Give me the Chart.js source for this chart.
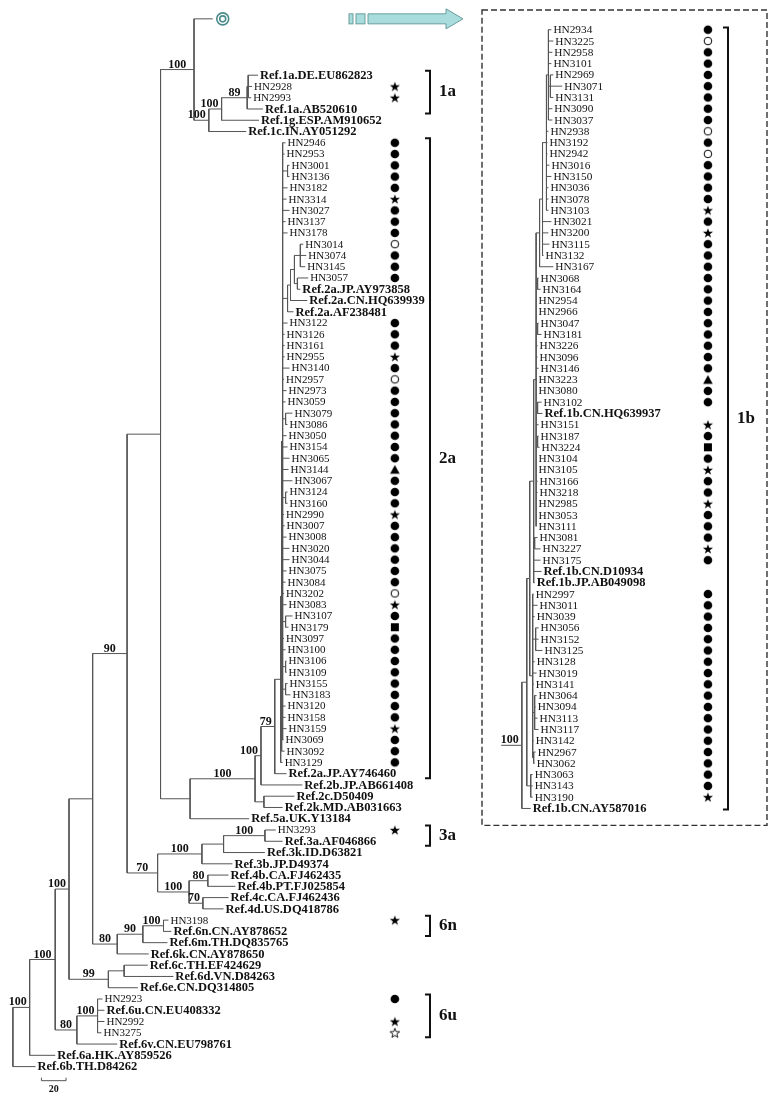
<!DOCTYPE html>
<html>
<head>
<meta charset="utf-8">
<title>Phylogenetic tree</title>
<script src="https://cdn.jsdelivr.net/npm/chart.js@4.4.1/dist/chart.umd.min.js"></script>
<style>
  html, body { margin: 0; padding: 0; background: #fff; }
  canvas { display: block; }
</style>
</head>
<body>
<canvas id="tree" width="772" height="1102"></canvas>
<script>
// branch depths are in scale-bar units (bar = 20)
// mark codes: o dot, c open circle, s star, S open star, t triangle, q square, - none

// collapsed 1b clade (drawn as the ring at the top, expanded in the box)
const collapsedDepth = 162.4;
const collapsedParent = 'H';

const topNames = ['Ref.1a.DE.EU862823', 'HN2928', 'HN2993', 'Ref.1a.AB520610', 'Ref.1g.ESP.AM910652', 'Ref.1c.IN.AY051292'];
const topDepth = [199.2, 194.4, 193.6, 203.2, 200, 189.6];
const topParent = ['L', 'L', 'L', 'K', 'J', 'I'];
const topMarks = '-ss---';

const names2a = ['HN2946', 'HN2953', 'HN3001', 'HN3136', 'HN3182', 'HN3314', 'HN3027', 'HN3137', 'HN3178', 'HN3014',
  'HN3074', 'HN3145', 'HN3057', 'Ref.2a.JP.AY973858', 'Ref.2a.CN.HQ639939', 'Ref.2a.AF238481', 'HN3122', 'HN3126', 'HN3161', 'HN2955',
  'HN3140', 'HN2957', 'HN2973', 'HN3059', 'HN3079', 'HN3086', 'HN3050', 'HN3154', 'HN3065', 'HN3144',
  'HN3067', 'HN3124', 'HN3160', 'HN2990', 'HN3007', 'HN3008', 'HN3020', 'HN3044', 'HN3075', 'HN3084',
  'HN3202', 'HN3083', 'HN3107', 'HN3179', 'HN3097', 'HN3100', 'HN3106', 'HN3109', 'HN3155', 'HN3183',
  'HN3120', 'HN3158', 'HN3159', 'HN3069', 'HN3092', 'HN3129'];
const depth2a = [221.6, 220.8, 224.8, 224.8, 223.2, 222.4, 224.8, 221.6, 223.2, 236,
  238.4, 237.6, 240, 233.6, 239.2, 228, 223.2, 220.8, 220.8, 220.8,
  224.8, 220.4, 222.4, 221.6, 227.2, 223.2, 222.4, 223.2, 224.8, 224,
  227.2, 223.2, 223.2, 220.4, 220.8, 222.4, 224.8, 224.8, 222.4, 221.6,
  220.4, 222.4, 227.2, 224, 220.4, 221.6, 222.4, 222.4, 223.2, 225.6,
  221.6, 221.6, 222.4, 220, 220.8, 219.2];
const parent2a = ['R', 'R', 'a1', 'a1', 'R', 'R', 'R', 'R', 'R', 's4',
  's4', 's4', 's5', 's5', 's2', 's1', 'R', 'R', 'R', 'R',
  'R', 'R', 'R', 'R', 'a2', 'a2', 'R', 'R', 'R', 'R',
  'R', 'a3', 'a3', 'R', 'R', 'R', 'R', 'R', 'R', 'R',
  'R', 'R', 'a4', 'a4', 'R', 'R', 'a5', 'a5', 'a6', 'a6',
  'R', 'R', 'R', 'R', 'Z1', 'Z'];
const marks2a = 'ooooosoooc' + 'ooo---ooos' + 'ocooooooot' + 'ooosoooooo' + 'csoqoooooo' + 'oosooo';

const lowNames = ['Ref.2a.JP.AY746460', 'Ref.2b.JP.AB661408', 'Ref.2c.D50409', 'Ref.2k.MD.AB031663', 'Ref.5a.UK.Y13184',
  'HN3293', 'Ref.3a.AF046866', 'Ref.3k.ID.D63821', 'Ref.3b.JP.D49374', 'Ref.4b.CA.FJ462435',
  'Ref.4b.PT.FJ025854', 'Ref.4c.CA.FJ462436', 'Ref.4d.US.DQ418786', 'HN3198', 'Ref.6n.CN.AY878652',
  'Ref.6m.TH.DQ835765', 'Ref.6k.CN.AY878650', 'Ref.6c.TH.EF424629', 'Ref.6d.VN.D84263', 'Ref.6e.CN.DQ314805',
  'HN2923', 'Ref.6u.CN.EU408332', 'HN2992', 'HN3275', 'Ref.6v.CN.EU798761', 'Ref.6a.HK.AY859526', 'Ref.6b.TH.D84262'];
const lowDepth = [222.4, 235.2, 228.8, 219.2, 192, 213.6, 219.2, 204.8, 178.4, 175.2,
  180.8, 175.2, 171.2, 126.4, 128.8, 125.6, 110.4, 109.6, 130.4, 101.6,
  72.8, 74.4, 74.4, 72, 84.8, 34.4, 18.4];
const lowParent = ['N79', 'G2', 'Y', 'Y', 'F', 'V', 'V', 'U', 'S', 'W',
  'W', 'X', 'X', 'N100b', 'N100b', 'N90', 'N', 'O', 'O', 'P99',
  'Q', 'Q', 'Q', 'Q', 'P80', 'A', 'root'];
const lowMarks = '-----s-------s------o-sS---';

const leftNodeNames = ['root', 'A', 'B', 'C', 'D', 'E', 'E1', 'H', 'I', 'J', 'K', 'L',
  'F', 'G', 'G2', 'N79', 'Z', 'Z1', 'R', 'a1', 's1', 's2', 's3', 's4', 's5',
  'a2', 'a3', 'a4', 'a5', 'a6', 'Y', 'R70', 'S', 'U', 'V', 'T', 'W', 'X',
  'N', 'N90', 'N100b', 'P99', 'O', 'P80', 'Q'];
const leftNodeParent = ['', 'root', 'A', 'B', 'C', 'D', 'E', 'E1', 'H', 'I', 'J', 'K',
  'E1', 'F', 'G', 'G2', 'N79', 'Z', 'Z1', 'R', 'R', 's1', 's2', 's3', 's3',
  'R', 'R', 'R', 'R', 'R', 'G', 'E', 'R70', 'S', 'U', 'R70', 'T', 'T',
  'D', 'N', 'N90', 'C', 'P99', 'B', 'P80'];
const leftNodeDepth = [0, 13.6, 34.4, 45.6, 64.8, 92.8, 120, 147.2, 159.2, 169.6, 190.4, 191.2,
  144, 196.8, 201.6, 212.8, 217.6, 218.4, 219.2, 223.2, 223.2, 225.6, 228.8, 233.6, 231.2,
  221.6, 221.6, 221.6, 221.6, 221.6, 204, 117.6, 153.6, 171.2, 204.8, 143.2, 158.4, 154.4,
  84.8, 105.6, 122.4, 77.6, 90.4, 52, 68.8];
const leftNodeSupport = [null, 100, 100, 100, null, 90, null, 100, 100, 100, 89, null,
  null, 100, 100, 79, null, null, null, null, null, null, null, null, null,
  null, null, null, null, null, null, 70, 100, null, 100, 100, 80, 70,
  80, 90, 100, 99, null, 80, 100];

// right box: genotype 1b expanded
const rightNamesA = ['HN2934', 'HN3225', 'HN2958', 'HN3101', 'HN2969', 'HN3071', 'HN3131', 'HN3090', 'HN3037', 'HN2938',
  'HN3192', 'HN2942', 'HN3016', 'HN3150', 'HN3036', 'HN3078', 'HN3103', 'HN3021', 'HN3200', 'HN3115',
  'HN3132', 'HN3167', 'HN3068', 'HN3164', 'HN2954', 'HN2966', 'HN3047', 'HN3181', 'HN3226', 'HN3096',
  'HN3146', 'HN3223', 'HN3080', 'HN3102', 'Ref.1b.CN.HQ639937'];
const rightDepthA = [24, 25.6, 24.8, 24, 25.6, 32.8, 25.6, 24.8, 24.8, 21.6,
  20.8, 20.8, 22.4, 24, 21.6, 21.6, 21.6, 24, 21.6, 22.4,
  17.6, 25.6, 13.6, 15.2, 12, 12, 13.6, 16, 12.8, 12.8,
  13.6, 12, 12, 16, 16.8];
const rightParentA = ['g1', 'g1', 'g1', 'g1', 'n1a', 'n1a', 'n1a', 'g1', 'g1', 'g2',
  'g2', 'g2', 'g2', 'g2', 'g2', 'g2', 'g2', 'g3', 'g3', 'g3',
  'g3', 'g4', 'b1', 'b1', 'g5', 'g5', 'b2', 'b2', 'g5', 'g5',
  'g5', 'g5', 'g5', 'b3', 'b3'];
const rightMarksA = 'ocoooooooc' + 'ocoooososo' + 'oooooooooo' + 'otoo-';

const rightNamesB = ['HN3151', 'HN3187', 'HN3224', 'HN3104', 'HN3105', 'HN3166', 'HN3218', 'HN2985', 'HN3053', 'HN3111',
  'HN3081', 'HN3227', 'HN3175', 'Ref.1b.CN.D10934', 'Ref.1b.JP.AB049098', 'HN2997', 'HN3011', 'HN3039', 'HN3056', 'HN3152',
  'HN3125', 'HN3128', 'HN3019', 'HN3141', 'HN3064', 'HN3094', 'HN3113', 'HN3117', 'HN3142', 'HN2967',
  'HN3062', 'HN3063', 'HN3143', 'HN3190', 'Ref.1b.CN.AY587016'];
const rightDepthB = [13.6, 13.6, 14.4, 12, 12, 12.8, 12.8, 12, 12, 12,
  12.8, 15.2, 15.2, 16, 10.4, 9.6, 12.8, 10.4, 13.6, 13.6,
  16.8, 10.4, 12, 9.6, 12, 11.2, 12.8, 13.6, 9.6, 11.2,
  10.4, 8.8, 8.8, 8.8, 7.2];
const rightParentB = ['g5', 'b4', 'b4', 'g5', 'g5', 'g5', 'g5', 'g5', 'g5', 'g5',
  'b5', 'b5', 'g6', 'g6', 'g6', 'RE', 'RE', 'RE', 'b6', 'b6',
  'b6', 'RE', 'RE', 'RE', 'b7', 'b7', 'b7', 'b7', 'RE', 'b8',
  'b8', 'RC', 'RC', 'RC', 'RR'];
const rightMarksB = 'soqosoosoo' + 'oso--' + 'oooooooooooooooooo' + 's-';

const rightNodeNames = ['RR', 'RA', 'g7', 'RC', 'g6', 'RE', 'g5', 'g4', 'g3', 'g2', 'g1', 'n1a',
  'b1', 'b2', 'b3', 'b4', 'b5', 'b6', 'b7', 'b8'];
const rightNodeParent = ['', 'RR', 'RA', 'RA', 'g7', 'g7', 'g6', 'g5', 'g4', 'g3', 'g2', 'g1',
  'g5', 'g5', 'g5', 'g5', 'g6', 'RE', 'RE', 'RE'];
const rightNodeDepth = [0, 4, 6.4, 7.2, 9.6, 8.8, 11.6, 14.4, 16.8, 20, 21.6, 23.2,
  12.8, 12.8, 12.8, 12.8, 10.4, 11.2, 10.4, 9.6];
const rightNodeSupport = [100, null, null, null, null, null, null, null, null, null, null, null,
  null, null, null, null, null, null, null, null];
const rightStem = 16.8;

const cladeLabels = ['1a', '2a', '3a', '6n', '6u'];
const cladeFirst = ['Ref.1a.DE.EU862823', 'HN2946', 'HN3293', 'HN3198', 'HN2923'];
const cladeLast = ['Ref.1a.AB520610', 'Ref.2a.JP.AY746460', 'Ref.3a.AF046866', 'Ref.6n.CN.AY878652', 'HN3275'];
const scaleBarLength = 20;

// ---- layout ----
const W = 772, H = 1102;
const PX_PER_UNIT = 1.25;
const LEFT_ORIGIN = 7, RIGHT_ORIGIN = 524;
const LEFT_TOP = 13, LEFT_ROW = 11.39, RIGHT_TOP = 24, RIGHT_ROW = 11.41;
const FIRST_ROW = 5; // gap below the collapsed clade
const MARK_LEFT = (395 - LEFT_ORIGIN) / PX_PER_UNIT;
const MARK_RIGHT = (713 - RIGHT_ORIGIN) / PX_PER_UNIT;
const FONT = "'Liberation Serif', 'Times New Roman', serif";

function buildTree(leafNames, leafDepth, leafParent, leafRows, nodeNames, nodeParent, nodeDepth, nodeSupport, stem) {
  const nodes = {};
  nodeNames.forEach((n, i) => {
    nodes[n] = { name: n, depth: nodeDepth[i], parent: nodeParent[i], support: nodeSupport[i], kids: [] };
  });
  const leaves = leafNames.map((n, i) => ({ name: n, depth: leafDepth[i], parent: leafParent[i], y: leafRows[i] }));
  leaves.forEach(l => nodes[l.parent].kids.push(l));
  nodeNames.forEach(n => { const p = nodes[n].parent; if (p) nodes[p].kids.push(nodes[n]); });
  const yOf = nd => {
    if (nd.y === undefined) {
      const ys = nd.kids.map(yOf);
      nd.y = (Math.min(...ys) + Math.max(...ys)) / 2;
    }
    return nd.y;
  };
  nodeNames.forEach(n => yOf(nodes[n]));
  const segs = [];
  const gap = () => ({ x: null, y: null });
  nodeNames.forEach(n => {
    const nd = nodes[n];
    const ys = nd.kids.map(k => k.y);
    segs.push({ x: nd.depth, y: Math.min(...ys) }, { x: nd.depth, y: Math.max(...ys) }, gap());
    nd.kids.forEach(k => segs.push({ x: nd.depth, y: k.y }, { x: k.depth, y: k.y }, gap()));
    if (!nd.parent && stem) segs.push({ x: nd.depth - stem, y: nd.y }, { x: nd.depth, y: nd.y }, gap());
  });
  return { nodes, leaves, segs, stem };
}

const leftNames = [''].concat(topNames, names2a, lowNames);
const leftRows = leftNames.map((n, i) => i === 0 ? 0 : FIRST_ROW + i - 1);
const leftTree = buildTree(leftNames,
  [collapsedDepth].concat(topDepth, depth2a, lowDepth),
  [collapsedParent].concat(topParent, parent2a, lowParent),
  leftRows, leftNodeNames, leftNodeParent, leftNodeDepth, leftNodeSupport, 0);
const leftMarks = '-' + topMarks + marks2a + lowMarks;

const rightNames = rightNamesA.concat(rightNamesB);
const rightTree = buildTree(rightNames, rightDepthA.concat(rightDepthB), rightParentA.concat(rightParentB),
  rightNames.map((n, i) => i), rightNodeNames, rightNodeParent, rightNodeDepth, rightNodeSupport, rightStem);
const rightMarks = rightMarksA + rightMarksB;

function markImage(code) {
  const cv = document.createElement('canvas');
  cv.width = 12; cv.height = 12;
  const g = cv.getContext('2d');
  g.fillStyle = '#000'; g.strokeStyle = '#000';
  const star = (ro, ri) => {
    g.beginPath();
    for (let k = 0; k < 10; k++) {
      const r = k % 2 ? ri : ro;
      const a = -Math.PI / 2 + k * Math.PI / 5;
      g.lineTo(6 + r * Math.cos(a), 6.5 + r * Math.sin(a));
    }
    g.closePath();
  };
  if (code === 'o') { g.beginPath(); g.arc(6, 6, 4.3, 0, 2 * Math.PI); g.fill(); }
  if (code === 'c') { g.lineWidth = 1; g.beginPath(); g.arc(6, 6, 3.8, 0, 2 * Math.PI); g.stroke(); }
  if (code === 's') { star(5.3, 2.1); g.fill(); }
  if (code === 'S') { g.lineWidth = 0.9; star(5, 2.1); g.stroke(); }
  if (code === 't') { g.beginPath(); g.moveTo(6, 1.5); g.lineTo(10.8, 10.2); g.lineTo(1.2, 10.2); g.closePath(); g.fill(); }
  if (code === 'q') { g.fillRect(2, 2, 8, 8); }
  return cv;
}
const markImg = {};
'ocsStq'.split('').forEach(c => { markImg[c] = markImage(c); });

function lineSet(tree, xa, ya) {
  return { data: tree.segs, xAxisID: xa, yAxisID: ya, showLine: true, spanGaps: false,
    borderColor: '#555', borderWidth: 1, pointRadius: 0, pointHoverRadius: 0 };
}
function markSet(tree, marks, col, xa, ya) {
  const pts = [], styles = [];
  tree.leaves.forEach((l, i) => {
    if (marks[i] !== '-') { pts.push({ x: col, y: l.y }); styles.push(markImg[marks[i]]); }
  });
  return { data: pts, xAxisID: xa, yAxisID: ya, pointStyle: styles, pointRadius: 5, showLine: false };
}

function drawLeafNames(c, tree, xs, ys, hnSize) {
  c.textBaseline = 'middle';
  c.textAlign = 'left';
  tree.leaves.forEach(l => {
    if (!l.name) return;
    c.font = l.name.startsWith('Ref.') ? 'bold 12.5px ' + FONT : hnSize + 'px ' + FONT;
    c.fillText(l.name, xs.getPixelForValue(l.depth) + 2, ys.getPixelForValue(l.y) + 0.5);
  });
}

function drawSupport(c, tree, xs, ys) {
  c.font = 'bold 12px ' + FONT;
  c.textBaseline = 'alphabetic';
  Object.values(tree.nodes).forEach(nd => {
    if (nd.support == null) return;
    const nx = xs.getPixelForValue(nd.depth);
    const px = nd.parent ? xs.getPixelForValue(tree.nodes[nd.parent].depth) : xs.getPixelForValue(nd.depth - tree.stem);
    const ny = ys.getPixelForValue(nd.y);
    const txt = String(nd.support);
    const w = c.measureText(txt).width;
    if (nx - px >= w + 4) { c.textAlign = 'center'; c.fillText(txt, (nx + px) / 2, ny - 2); }
    else { c.textAlign = 'right'; c.fillText(txt, nx - 3, ny - 2); }
  });
}

function drawBracket(c, bx, top, bottom, label) {
  c.lineWidth = 2;
  c.strokeStyle = '#111';
  c.beginPath();
  c.moveTo(bx - 5, top); c.lineTo(bx, top); c.lineTo(bx, bottom); c.lineTo(bx - 5, bottom);
  c.stroke();
  c.font = 'bold 17px ' + FONT;
  c.textAlign = 'left'; c.textBaseline = 'middle';
  c.fillText(label, bx + 9, (top + bottom) / 2);
}

const treeDecor = {
  id: 'treeDecor',
  afterDatasetsDraw(chart) {
    const c = chart.ctx;
    const { x, y, x2, y2 } = chart.scales;
    c.save();
    c.fillStyle = '#111';
    drawLeafNames(c, leftTree, x, y, 11);
    drawLeafNames(c, rightTree, x2, y2, 11.3);
    drawSupport(c, leftTree, x, y);
    drawSupport(c, rightTree, x2, y2);

    const rowOf = (tree, name) => tree.leaves.find(l => l.name === name).y;
    cladeLabels.forEach((lab, i) => {
      drawBracket(c, 430, y.getPixelForValue(rowOf(leftTree, cladeFirst[i]) - 0.4),
        y.getPixelForValue(rowOf(leftTree, cladeLast[i]) + 0.4), lab);
    });
    const lastR = rightTree.leaves.length - 1;
    drawBracket(c, 728, y2.getPixelForValue(-0.2), y2.getPixelForValue(lastR + 0.1), '1b');

    // dashed box around the expanded 1b clade
    c.setLineDash([6, 3]);
    c.lineWidth = 1.4;
    c.strokeStyle = '#333';
    const bt = y2.getPixelForValue(-1.75), bb = y2.getPixelForValue(lastR + 1.5);
    c.strokeRect(482, bt, 767 - 482, bb - bt);
    c.setLineDash([]);

    // collapsed clade marker + arrow
    const col = leftTree.leaves[0];
    const cy = y.getPixelForValue(col.y);
    const cx = x.getPixelForValue(col.depth) + 10;
    c.strokeStyle = '#4d8b8b';
    c.lineWidth = 1.6;
    c.beginPath(); c.arc(cx, cy, 6, 0, 2 * Math.PI); c.stroke();
    c.beginPath(); c.arc(cx, cy, 3, 0, 2 * Math.PI); c.stroke();
    c.fillStyle = '#a9dcdd';
    c.strokeStyle = '#6a9c9c';
    c.lineWidth = 1;
    c.fillRect(349, cy - 5, 4, 10); c.strokeRect(349, cy - 5, 4, 10);
    c.fillRect(356, cy - 5, 9, 10); c.strokeRect(356, cy - 5, 9, 10);
    c.beginPath();
    c.moveTo(368, cy - 5); c.lineTo(446, cy - 5); c.lineTo(446, cy - 10); c.lineTo(463, cy);
    c.lineTo(446, cy + 10); c.lineTo(446, cy + 5); c.lineTo(368, cy + 5); c.closePath();
    c.fill(); c.stroke();

    // scale bar
    const sbRow = leftTree.leaves[leftTree.leaves.length - 1].y + 1.25;
    const sy = y.getPixelForValue(sbRow);
    const s0 = x.getPixelForValue((36 - LEFT_ORIGIN) / PX_PER_UNIT);
    const s1 = x.getPixelForValue((36 - LEFT_ORIGIN) / PX_PER_UNIT + scaleBarLength);
    c.strokeStyle = '#555';
    c.lineWidth = 1;
    c.beginPath();
    c.moveTo(s0, sy - 3); c.lineTo(s0, sy); c.lineTo(s1, sy); c.lineTo(s1, sy - 3);
    c.stroke();
    c.fillStyle = '#111';
    c.font = 'bold 10px ' + FONT;
    c.textAlign = 'center'; c.textBaseline = 'top';
    c.fillText(String(scaleBarLength), (s0 + s1) / 2, sy + 4);
    c.restore();
  }
};

const leftXMin = -LEFT_ORIGIN / PX_PER_UNIT;
const rightXMin = -RIGHT_ORIGIN / PX_PER_UNIT;
const leftYMin = -LEFT_TOP / LEFT_ROW;
const rightYMin = -RIGHT_TOP / RIGHT_ROW;

new Chart(document.getElementById('tree').getContext('2d'), {
  type: 'scatter',
  data: {
    datasets: [
      lineSet(leftTree, 'x', 'y'),
      lineSet(rightTree, 'x2', 'y2'),
      markSet(leftTree, leftMarks, MARK_LEFT, 'x', 'y'),
      markSet(rightTree, rightMarks, MARK_RIGHT, 'x2', 'y2')
    ]
  },
  options: {
    responsive: false,
    devicePixelRatio: 1,
    animation: false,
    events: [],
    layout: { padding: 0 },
    plugins: { legend: { display: false }, tooltip: { enabled: false } },
    scales: {
      x: { type: 'linear', display: false, min: leftXMin, max: leftXMin + W / PX_PER_UNIT },
      y: { type: 'linear', display: false, reverse: true, min: leftYMin, max: leftYMin + H / LEFT_ROW },
      x2: { type: 'linear', display: false, axis: 'x', min: rightXMin, max: rightXMin + W / PX_PER_UNIT },
      y2: { type: 'linear', display: false, axis: 'y', reverse: true, min: rightYMin, max: rightYMin + H / RIGHT_ROW }
    }
  },
  plugins: [treeDecor]
});
</script>
</body>
</html>
